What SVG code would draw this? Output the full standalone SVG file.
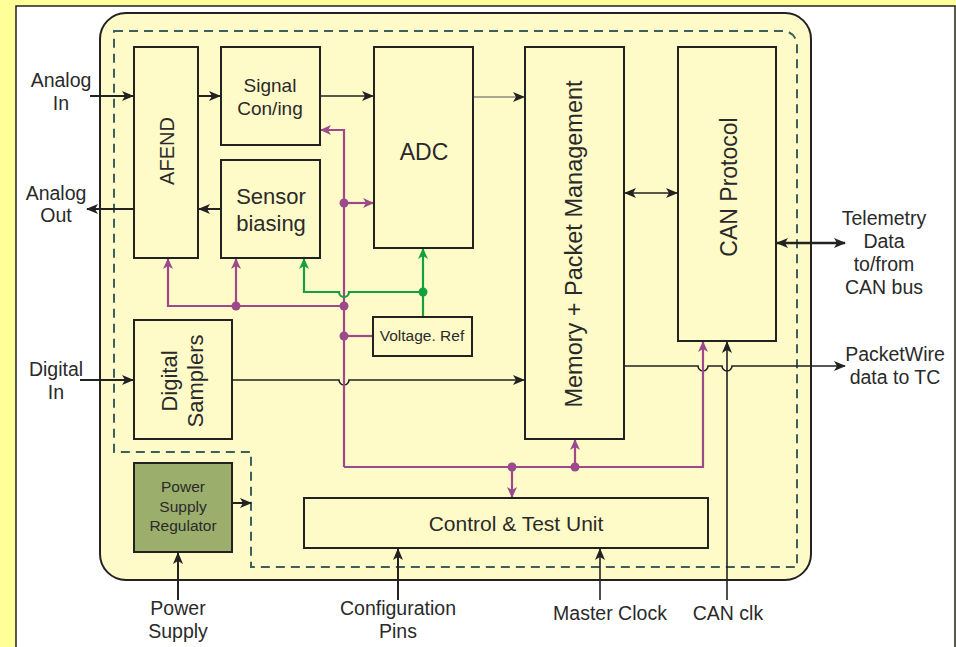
<svg xmlns="http://www.w3.org/2000/svg" width="956" height="647" viewBox="0 0 956 647">
<defs>
<style>
.box{fill:#fffbc8;stroke:#222;stroke-width:2}
.t{font-family:"Liberation Sans",Arial,sans-serif;fill:#2a2a2a;text-anchor:middle}
.blk{fill:none;stroke:#222;stroke-width:1.6}
.ext{fill:none;stroke:#222;stroke-width:2}
.pur{fill:none;stroke:#9c4a8c;stroke-width:2.2}
.grn{fill:none;stroke:#14a040;stroke-width:2.2}
.dotp{fill:#9c4a8c}
.dotg{fill:#14a040}
</style>
<marker id="ab" markerUnits="userSpaceOnUse" markerWidth="12" markerHeight="10" refX="11" refY="5" orient="auto-start-reverse"><path d="M0,0 L12,5 L0,10 L3,5 z" fill="#222"/></marker>
<marker id="ap" markerUnits="userSpaceOnUse" markerWidth="11" markerHeight="10" refX="10" refY="5" orient="auto-start-reverse"><path d="M0,0 L11,5 L0,10 L3,5 z" fill="#9c4a8c"/></marker>
<marker id="ag" markerUnits="userSpaceOnUse" markerWidth="11" markerHeight="10" refX="10" refY="5" orient="auto-start-reverse"><path d="M0,0 L11,5 L0,10 L3,5 z" fill="#14a040"/></marker>
</defs>
<rect x="0" y="0" width="956" height="647" fill="#ffff99"/>
<rect x="16" y="6" width="939" height="650" fill="#ffffff" stroke="#222" stroke-width="1.5"/>
<rect x="100" y="13" width="711" height="567" rx="26" fill="#fffbc8" stroke="#222" stroke-width="2"/>
<path d="M114 31 H783 A14 14 0 0 1 797 45 V567 H251 V452 H114 Z" fill="none" stroke="#3f5f5f" stroke-width="2" stroke-dasharray="9 6"/>

<g id="connectors">
<path class="ext" d="M90 96 H133" marker-end="url(#ab)"/>
<path class="ext" d="M198 96 H220" marker-end="url(#ab)"/>
<path class="blk" d="M320 96 H373" marker-end="url(#ab)"/>
<path d="M473 97 H524" fill="none" stroke="#555" stroke-width="1" marker-end="url(#ab)"/>
<path class="ext" d="M221 209 H199" marker-end="url(#ab)"/>
<path class="ext" d="M134 209 H87" marker-end="url(#ab)"/>
<path class="blk" d="M625 193 H677" marker-start="url(#ab)" marker-end="url(#ab)"/>
<path d="M777 243 H845" fill="none" stroke="#222" stroke-width="2.4" marker-start="url(#ab)" marker-end="url(#ab)"/>
<path class="ext" d="M80 380 H133" marker-end="url(#ab)"/>
<path class="blk" d="M232 380 H339 A5 5 0 0 0 349 380 H524" marker-end="url(#ab)"/>
<path class="blk" d="M624 366 H698 A5 5 0 0 0 708 366 H722 A5 5 0 0 0 732 366 H845" marker-end="url(#ab)"/>
<path class="ext" d="M232 503 H251" marker-end="url(#ab)"/>
<path class="ext" d="M178 600 V553" marker-end="url(#ab)"/>
<path class="ext" d="M398 600 V549" marker-end="url(#ab)"/>
<path class="blk" d="M600 600 V549" marker-end="url(#ab)"/>
<path class="blk" d="M727 600 V342" marker-end="url(#ab)"/>

<path class="pur" d="M344 467 V130 H321" marker-end="url(#ap)"/>
<path class="pur" d="M344 467 H703 V342" marker-end="url(#ap)"/>
<path class="pur" d="M344 203 H373" marker-end="url(#ap)"/>
<path class="pur" d="M344 306 H168 V259" marker-end="url(#ap)"/>
<path class="pur" d="M236 306 V259" marker-end="url(#ap)"/>
<path class="pur" d="M344 336 H373"/>
<path class="pur" d="M512 467 V497" marker-end="url(#ap)"/>
<path class="pur" d="M575 467 V440" marker-end="url(#ap)"/>
<circle class="dotp" cx="344" cy="203" r="4.5"/>
<circle class="dotp" cx="236" cy="306" r="4.5"/>
<circle class="dotp" cx="344" cy="306" r="4.5"/>
<circle class="dotp" cx="344" cy="336" r="4.5"/>
<circle class="dotp" cx="512" cy="467" r="4.5"/>
<circle class="dotp" cx="575" cy="467" r="4.5"/>

<path class="grn" d="M423 317 V249" marker-end="url(#ag)"/>
<path class="grn" d="M423 292 H349 A5 5 0 0 1 339 292 H304 V259" marker-end="url(#ag)"/>
<circle class="dotg" cx="423" cy="292" r="4.5"/>
</g>

<g id="afend"><rect class="box" x="134" y="47" width="64" height="211"/><text class="t" font-size="20" transform="translate(174 151) rotate(-90)">AFEND</text></g>
<g id="signal"><rect class="box" x="221" y="47" width="99" height="98"/><text class="t" font-size="19" x="270" y="92">Signal</text><text class="t" font-size="19" x="270" y="115">Con/ing</text></g>
<g id="sensor"><rect class="box" x="221" y="160" width="99" height="98"/><text class="t" font-size="22" x="271" y="204">Sensor</text><text class="t" font-size="22" x="271" y="231">biasing</text></g>
<g id="adc"><rect class="box" x="374" y="47" width="99" height="201"/><text class="t" font-size="23" x="424" y="160">ADC</text></g>
<g id="memory"><rect class="box" x="525" y="47" width="99" height="392"/><text class="t" font-size="23.5" transform="translate(582 244) rotate(-90)">Memory + Packet Management</text></g>
<g id="can"><rect class="box" x="678" y="47" width="98" height="294"/><text class="t" font-size="23" transform="translate(737 187) rotate(-90)">CAN Protocol</text></g>
<g id="vref"><rect class="box" x="373" y="317" width="99" height="39"/><text class="t" font-size="15.5" x="422" y="341">Voltage. Ref</text></g>
<g id="digital"><rect class="box" x="134" y="320" width="98" height="119"/><text class="t" font-size="22" transform="translate(177 381) rotate(-90)">Digital</text><text class="t" font-size="22" transform="translate(203 381) rotate(-90)">Samplers</text></g>
<g id="psr"><rect x="134" y="463" width="98" height="89" fill="#9bae6b" stroke="#222" stroke-width="2"/><text class="t" font-size="15.5" x="183" y="492">Power</text><text class="t" font-size="15.5" x="183" y="512">Supply</text><text class="t" font-size="15.5" x="183" y="531">Regulator</text></g>
<g id="ctu"><rect class="box" x="304" y="498" width="404" height="50"/><text class="t" font-size="21" x="516" y="531">Control &amp; Test Unit</text></g>

<g id="labels" class="t" font-size="19.5">
<text class="t" x="61" y="87">Analog</text><text class="t" x="61" y="110">In</text>
<text class="t" x="56" y="200">Analog</text><text class="t" x="56" y="222">Out</text>
<text class="t" x="56" y="376">Digital</text><text class="t" x="56" y="399">In</text>
<text class="t" x="884" y="225">Telemetry</text><text class="t" x="884" y="248">Data</text><text class="t" x="884" y="271">to/from</text><text class="t" x="884" y="294">CAN bus</text>
<text class="t" x="895" y="361">PacketWire</text><text class="t" x="895" y="384">data to TC</text>
<text class="t" x="178" y="615">Power</text><text class="t" x="178" y="638">Supply</text>
<text class="t" x="398" y="615">Configuration</text><text class="t" x="398" y="638">Pins</text>
<text class="t" x="610" y="620">Master Clock</text>
<text class="t" x="728" y="620">CAN clk</text>
</g>
</svg>
